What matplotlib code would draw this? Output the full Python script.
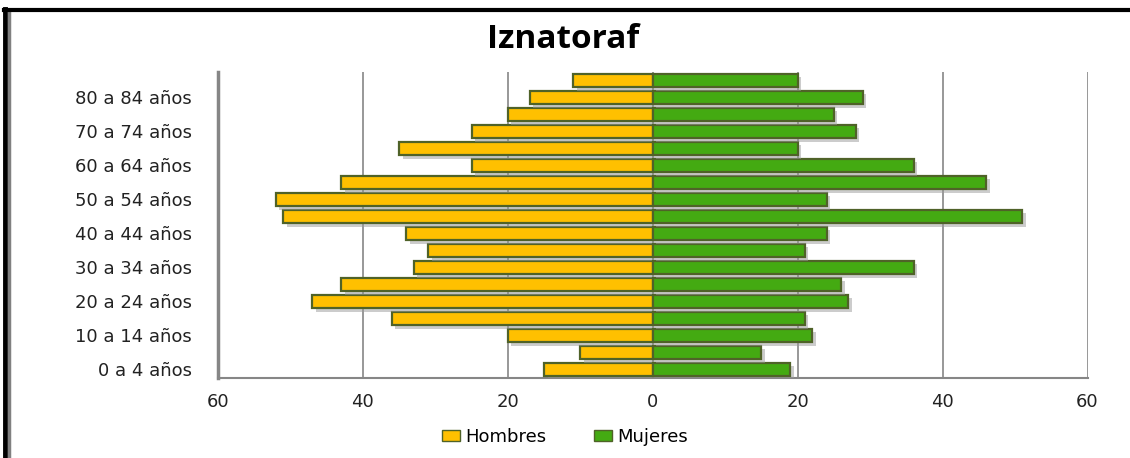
import matplotlib
matplotlib.use("Agg")
import matplotlib.pyplot as plt
import matplotlib.patheffects as pe
from matplotlib.lines import Line2D
from matplotlib.patches import Patch
import numpy as np

# age groups, bottom to top
groups = ["0 a 4 años", "5 a 9 años", "10 a 14 años", "15 a 19 años", "20 a 24 años",
          "25 a 29 años", "30 a 34 años", "35 a 39 años", "40 a 44 años", "45 a 49 años",
          "50 a 54 años", "55 a 59 años", "60 a 64 años", "65 a 69 años", "70 a 74 años",
          "75 a 79 años", "80 a 84 años", "85 y más"]
hombres = [15, 10, 20, 36, 47, 43, 33, 31, 34, 51, 52, 43, 25, 35, 25, 20, 17, 11]
mujeres = [19, 15, 22, 21, 27, 26, 36, 21, 24, 51, 24, 46, 36, 20, 28, 25, 29, 20]
xticks = [-60, -40, -20, 0, 20, 40, 60]
xtick_labels = ["60", "40", "20", "0", "20", "40", "60"]

W, H = 1130, 458
fig = plt.figure(figsize=(W / 100, H / 100), dpi=100)
ax = fig.add_axes([218 / W, 1 - 378 / H, (1087.5 - 218) / W, (378 - 72) / H])

y = np.arange(len(groups))
shadow = [pe.SimplePatchShadow(offset=(2.5, -2.5), shadow_rgbFace="#9a9a9a", alpha=0.5), pe.Normal()]
bh = ax.barh(y, [-v for v in hombres], height=0.82, color="#FFC000",
             edgecolor="#4F6228", linewidth=1.6, label="Hombres", zorder=3)
bm = ax.barh(y, mujeres, height=0.82, color="#44AA12",
             edgecolor="#4F6228", linewidth=1.6, label="Mujeres", zorder=3)
for b in list(bh) + list(bm):
    b.set_path_effects(shadow)

ax.set_xlim(-60, 60)
ax.set_ylim(-0.5, len(groups) - 0.5)
ax.set_xticks(xticks)
ax.set_xticklabels(xtick_labels)
ax.set_yticks(y[::2])
ax.set_yticklabels(groups[::2])
ax.tick_params(axis="both", length=0, labelsize=13, colors="#222222")
ax.tick_params(axis="y", pad=19)
ax.tick_params(axis="x", pad=11)
ax.grid(axis="x", color="#868686", linewidth=1.2)
ax.set_axisbelow(True)
for s in ["top", "right"]:
    ax.spines[s].set_visible(False)
ax.spines["left"].set_color("#868686")
ax.spines["left"].set_linewidth(2.5)
ax.spines["bottom"].set_color("#868686")
ax.spines["bottom"].set_linewidth(1.5)

fig.text(563 / W, 1 - 40 / H, "Iznatoraf", ha="center", va="center",
         fontsize=24, fontweight="bold", family="Open Sans")

handles = [Patch(facecolor="#FFC000", edgecolor="#4F6228", label="Hombres"),
           Patch(facecolor="#44AA12", edgecolor="#4F6228", label="Mujeres")]
fig.legend(handles=handles, loc="center", bbox_to_anchor=(0.5, 1 - 437 / H), ncol=2,
           frameon=False, fontsize=13, handlelength=1.0, handleheight=0.5,
           columnspacing=2.6, handletextpad=0.3)

# outer frame pieces
fig.add_artist(Line2D([5 / W, 5 / W], [0, 1 - 9 / H], color="black", linewidth=3.5))
fig.add_artist(Line2D([9 / W, 9 / W], [0, 1 - 11 / H], color="#808080", linewidth=2.5))
fig.add_artist(Line2D([4 / W, 1], [1 - 9.5 / H, 1 - 9.5 / H], color="black", linewidth=3))

fig.savefig("out.png", dpi=100)
